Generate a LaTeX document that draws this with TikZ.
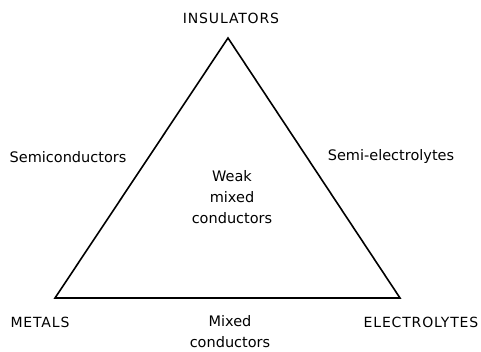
\documentclass[tikz,border=0pt]{standalone}
\usepackage{fontspec}
\setmainfont{DejaVu Sans}
\newfontfamily\capsfont[LetterSpace=6]{DejaVu Sans}
\begin{document}
\begin{tikzpicture}[x=1pt,y=-1pt,
  lbl/.style={font=\fontsize{14.5}{21}\selectfont, inner sep=0pt, align=center},
  caps/.style={font=\fontsize{14}{21}\selectfont\capsfont, inner sep=0pt, align=center},
  edge/.style={line width=1.6pt, line join=miter}]
\useasboundingbox (0,0) rectangle (481,352);
\coordinate (top) at (228,38);
\coordinate (bl) at (55,298);
\coordinate (br) at (400,298);
\draw[edge] (top) -- (bl) -- (br) -- cycle;
\node[caps] (ins) at (231,18) {INSULATORS};
\node[lbl] (semi) at (68,157) {Semiconductors};
\node[lbl] (semiel) at (391,157) {Semi-electrolytes};
\node[lbl] (weak) at (232,197) {Weak\\mixed\\conductors};
\node[caps] (met) at (40,322) {METALS};
\node[lbl] (mix) at (230,332) {Mixed\\conductors};
\node[caps] (el) at (421,322) {ELECTROLYTES};
\end{tikzpicture}
\end{document}
